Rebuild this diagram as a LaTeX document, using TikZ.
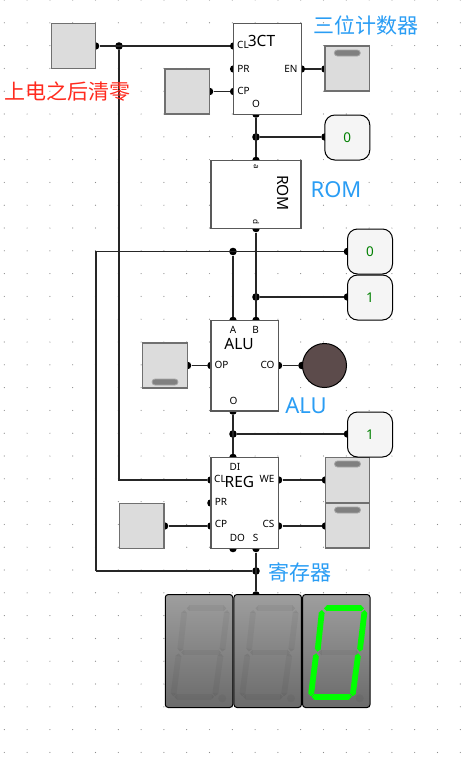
\documentclass[tikz,border=0pt]{standalone}
\usepackage{fontspec}
\usetikzlibrary{arrows.meta}
\setmainfont{Noto Sans}
\newfontfamily\cjk{Noto Sans CJK SC}
\definecolor{noteblue}{HTML}{2A9DF4}
\definecolor{notered}{HTML}{FF2A1E}
\definecolor{boxgray}{HTML}{707070}
\definecolor{swfill}{HTML}{DCDCDC}
\definecolor{ledoff}{HTML}{5C4B4B}
\tikzset{
pindot/.style={circle,fill=black,inner sep=0pt,minimum size=7.6pt},
wire/.style={line width=1.2pt,black!85},
inbox/.style={draw=boxgray,fill=swfill,line width=1.2pt,minimum width=44.5pt,minimum height=45pt,inner sep=0pt},
outbox/.style={draw=black,fill=black!4,line width=1pt,rounded corners=10pt,minimum width=45pt,minimum height=45pt,text=green!50!black,font=\fontsize{13.5}{14}\selectfont},
chipbox/.style={draw=black!65,fill=white,line width=1.3pt,inner sep=0pt},
handle/.style={draw=black!35,fill=black!50,rounded corners=3pt,minimum width=26pt,minimum height=6pt,inner sep=0pt,line width=.8pt},
smalltxt/.style={inner sep=0pt,font=\fontsize{10}{10}\selectfont},
chiptxt/.style={inner sep=0pt,font=\fontsize{15.5}{16}\selectfont},
notetxt/.style={inner sep=0pt,text=noteblue,font=\fontsize{22}{22}\selectfont},
dispbox/.style={draw=black,line width=1pt,rounded corners=3pt,top color=black!38,bottom color=black!58,minimum width=67.5pt,minimum height=113pt,inner sep=0pt},
segline/.style={line width=5.8pt,{Triangle[width=5.8pt,length=2.9pt]}-{Triangle[width=5.8pt,length=2.9pt]}},
}
\begin{document}
\begin{tikzpicture}[x=1pt,y=-1pt]
\useasboundingbox (0,0) rectangle (471,758);
\foreach \i in {0,...,20}{\foreach \j in {0,...,33}{\fill[black!45](4.3+22.8*\i,22.8*\j)circle(.6);}}
\foreach \n/\x/\y in {inClr/95.5/46,cCL/233.7/46,cPR/233.7/69,cCP/233.7/91.5,inCk/209.5/91.5,cEN/301.3/69,swEN/325/69,cO/256/114,jCnt/256/137,outCnt/325/137,romA/256/160.5,romD/256/228.5,jClr/119/46,jA/233/251.5,outA/347.5/251.5,jB/256/297,outB/347.5/297,aA/233/320.5,aB/256/320.5,aOP/211/365.5,inOP/187.5/365.5,aCO/278.5/365.5,led/302/365.5,aO/233/411,jO/233/434,outO/347.5/434,rDI/233/457.5,rCL/211/480,rPR/211/503,rCP/211/526,inRk/164.5/526,rWE/278.5/480,swWE/325.5/480,rCS/278.5/526,swCS/325.5/526,rDO/233/548.5,rS/256/548.5,jS/256/571,dispIn/256/595}{\node[pindot](\n)at(\x,\y){};}
\coordinate (cornA) at (96,251.5);
\coordinate (cornS) at (96,571);
\draw[wire](inClr)--(cCL);
\draw[wire](jClr)|-(rCL);
\draw[wire](inCk)--(cCP);
\draw[wire](cEN)--(swEN);
\draw[wire](cO)--(romA);
\draw[wire](jCnt)--(outCnt);
\draw[wire](cornS)--(cornA)--(outA);
\draw[wire](cornS)--(jS);
\draw[wire](jA)--(aA);
\draw[wire](romD)--(aB);
\draw[wire](jB)--(outB);
\draw[wire](inOP)--(aOP);
\draw[wire](aCO)--(led);
\draw[wire](aO)--(rDI);
\draw[wire](jO)--(outO);
\draw[wire](rWE)--(swWE);
\draw[wire](inRk)--(rCP);
\draw[wire](rCS)--(swCS);
\draw[wire](rS)--(dispIn);
\node[inbox](swClr)at(73.5,46){};
\node[inbox](swCk)at(187.3,91.5){};
\node[inbox](swOP)at(165,365.5){};
\node[inbox](swRk)at(141.8,526){};
\node[inbox](swCnt)at(347.3,68.5){};
\node[inbox](swWr)at(347.5,480){};
\node[inbox](swCs)at(347.5,525.5){};
\node[handle](hCnt)at(347.3,53){};
\node[handle](hOP)at(165,382){};
\node[handle](hWr)at(347.5,464){};
\node[handle](hCs)at(347.5,510){};
\node[outbox](vCnt)at(347.3,137.5){0};
\node[outbox](vA)at(370,251.5){0};
\node[outbox](vB)at(370,297.5){1};
\node[outbox](vO)at(370,434.5){1};
\node[chipbox,minimum width=67.5pt,minimum height=90.5pt](chipCnt)at(267.5,69){};
\node[chipbox,minimum width=90pt,minimum height=68pt](chipRom)at(256,194.5){};
\node[chipbox,minimum width=67.5pt,minimum height=90.5pt](chipAlu)at(244.7,365.7){};
\node[chipbox,minimum width=67.5pt,minimum height=90.5pt](chipReg)at(244.7,503){};
\node[circle,draw=black,fill=ledoff,line width=1pt,minimum size=44pt,inner sep=0pt](ledAlu)at(324.5,365.5){};
\foreach \n/\x/\y/\t in {tCL/243/45/CL,tPR/243.5/68.5/PR,tCP/243.5/91/CP,tEN/291/68.5/EN,tO/256/104/O,tA/233/330/A,tB/255.5/330/B,tOP/221.5/365/OP,tCO/267.5/365/CO,tAO/233.5/401/O,tDI/235/467/DI,tRCL/220/479/CL,tWE/267/479/WE,tRPR/221/502/PR,tRCP/221/524/CP,tCS/268.5/524/CS,tDO/237.5/538/DO,tS/255.5/538/S}{\node[smalltxt](\n)at(\x,\y){\t};}
\node[inner sep=0pt,rotate=-90,font=\fontsize{8}{8}\selectfont](tRA)at(256,167){a};
\node[inner sep=0pt,rotate=-90,font=\fontsize{8}{8}\selectfont](tRD)at(256,222){d};
\node[chiptxt](t3CT)at(261.5,41){3CT};
\node[chiptxt,rotate=-90](tROM)at(283,193){ROM};
\node[chiptxt](tALU)at(239,344.5){ALU};
\node[chiptxt](tREG)at(239.5,481.5){REG};
\node[notetxt,font=\cjk\fontsize{21}{21}\selectfont](nCnt)at(366,25){三位计数器};
\node[notetxt](nRom)at(336,190){ROM};
\node[notetxt](nAlu)at(306,406){ALU};
\node[notetxt,font=\cjk\fontsize{21}{21}\selectfont](nReg)at(300,572){寄存器};
\node[inner sep=0pt,text=notered,font=\cjk\fontsize{21}{21}\selectfont](nClr)at(68,92){上电之后清零};
\node[dispbox](disp1)at(199,651){};
\node[dispbox](disp2)at(267.7,651){};
\node[dispbox](disp3)at(336.3,651){};
\foreach \d in {165.2,234}{
\foreach \xa/\ya/\xb/\yb in {21.3/14/61.3/14,62/15.7/57/57.4,55.6/59/49.8/102,9/102.4/49/102.4,8.1/102/13.6/59,14.8/57.4/19.3/15.7,16/58.2/56/58.2}{
\draw[segline,black,opacity=.045](\d+\xa,594.3+\ya)--(\d+\xb,594.3+\yb);}
\fill[black,opacity=.045](\d+57,594.3+104)circle(4);}
\foreach \xa/\ya/\xb/\yb in {21.3/14/61.3/14,62/15.7/57/57.4,55.6/59/49.8/102,9/102.4/49/102.4,8.1/102/13.6/59,14.8/57.4/19.3/15.7}{
\draw[segline,green](302.7+\xa,594.3+\ya)--(302.7+\xb,594.3+\yb);}
\draw[segline,black,opacity=.045](302.7+16,594.3+58.2)--(302.7+56,594.3+58.2);
\fill[black,opacity=.045](302.7+57,594.3+104)circle(4);
\end{tikzpicture}
\end{document}
